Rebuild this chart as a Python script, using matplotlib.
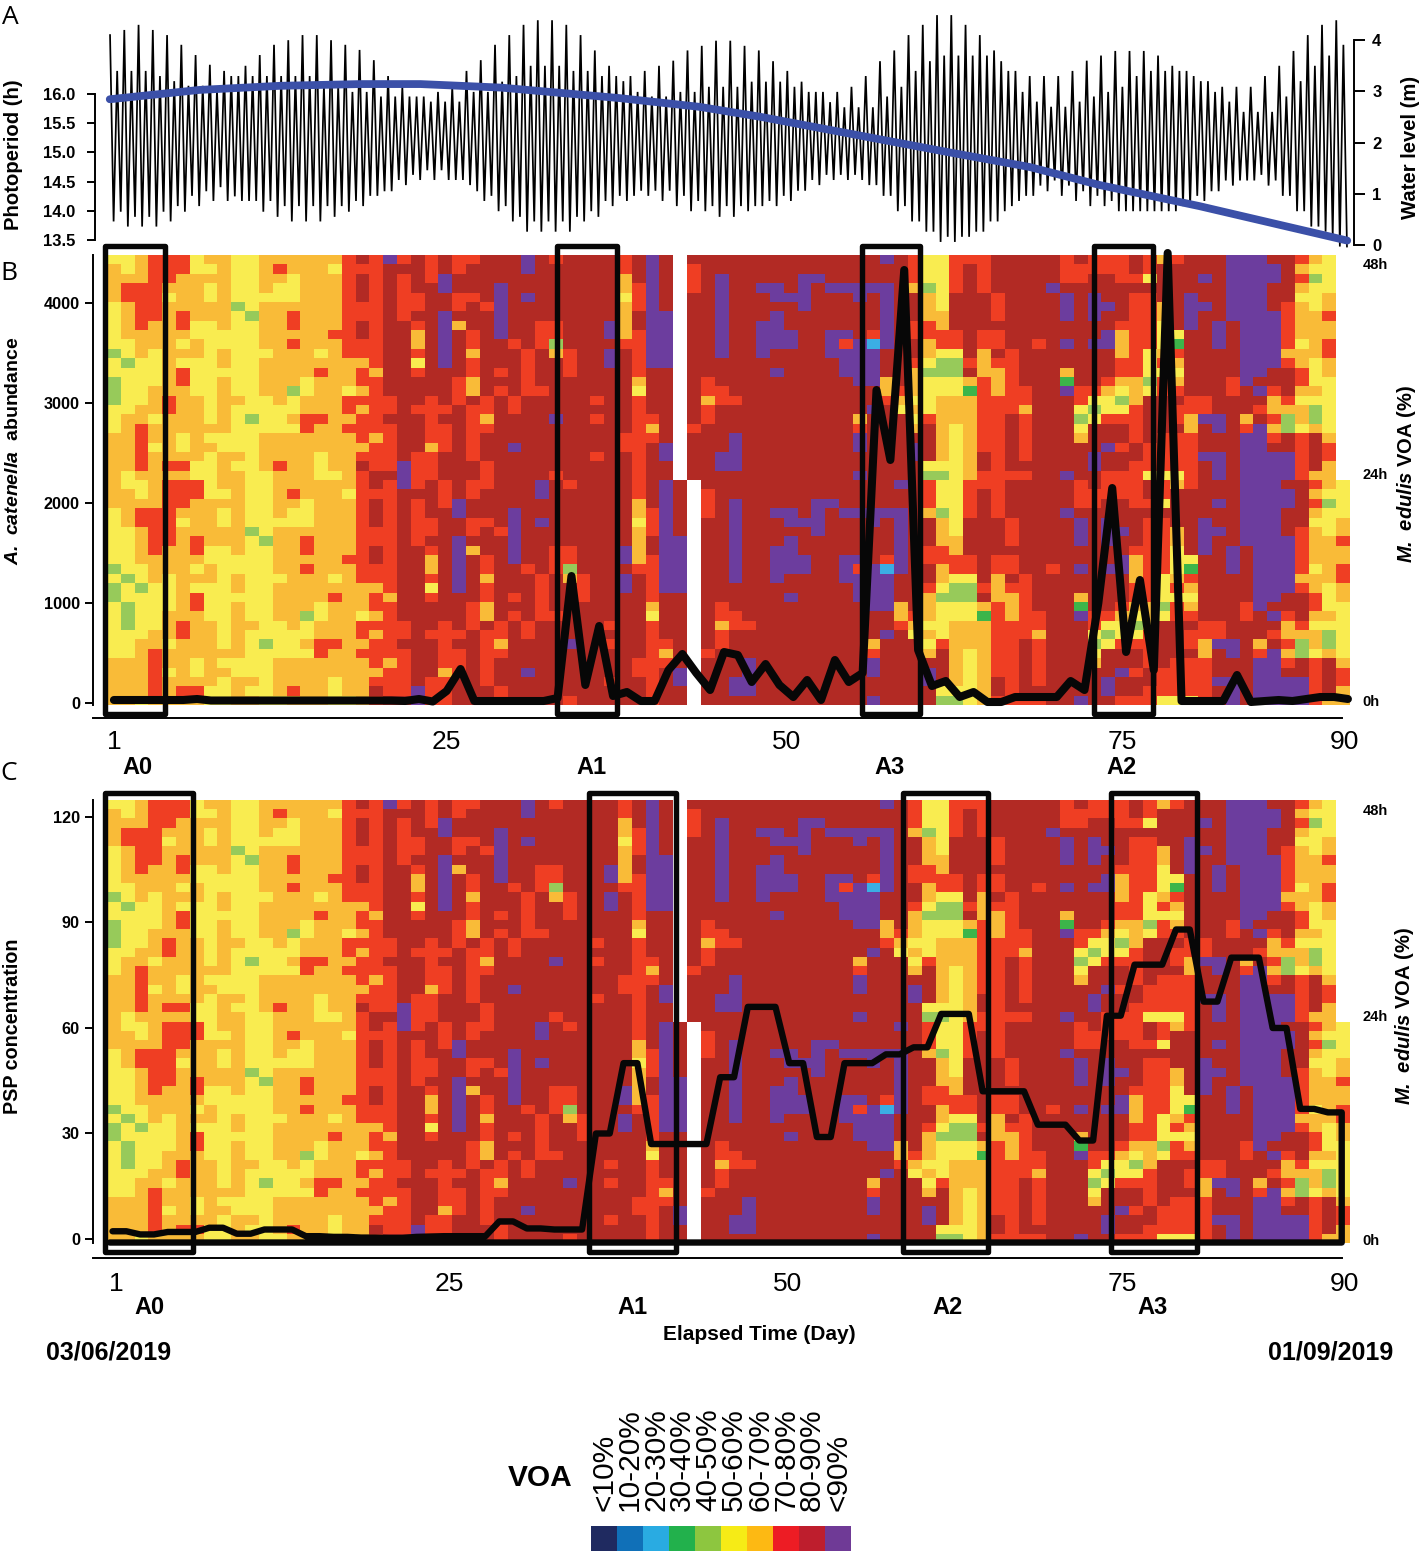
import numpy as np
import matplotlib
matplotlib.use("Agg")
import matplotlib.pyplot as plt
from matplotlib.colors import ListedColormap
from matplotlib.patches import Rectangle

plt.rcParams['font.family'] = ['Liberation Sans', 'DejaVu Sans']
plt.rcParams['mathtext.fontset'] = 'custom'
plt.rcParams['mathtext.bfit'] = 'Liberation Sans:italic:bold'
plt.rcParams['mathtext.rm'] = 'Liberation Sans:bold'

W, H = 1421, 1551

# water level (m), successive high and low waters
tide_highs = [4.10,3.40,4.20,3.40,4.30,3.40,4.20,3.30,4.10,3.20,3.91,3.11,3.71,3.11,3.52,3.03,3.40,3.30,3.30,3.50,
              3.30,3.71,3.30,3.91,3.30,4.00,3.30,4.10,3.30,4.10,3.11,4.00,3.11,3.91,2.99,3.81,2.99,3.61,2.90,3.30,
              2.90,3.09,2.90,2.90,2.90,2.80,2.99,2.80,3.09,2.80,3.40,2.99,3.61,2.99,3.91,
              3.19,4.10,3.30,4.30,3.50,4.39,3.50,4.39,3.50,4.30,3.40,4.10,3.40,3.80,3.30,3.50,3.30,3.20,3.30,2.99,
              3.40,2.90,3.50,2.90,3.60,2.99,3.80,2.99,3.89,3.09,3.99,3.09,3.99,3.09,3.89,3.19,3.80,
              3.19,3.59,3.19,3.40,3.09,3.19,2.99,2.99,2.99,2.79,2.99,2.69,3.09,2.69,3.30,2.69,3.59,2.90,3.80,3.09,
              4.10,3.40,4.30,3.59,4.49,3.70,4.49,3.70,4.30,3.70,4.10,3.70,3.80,3.59,3.40,3.40,2.99,3.30,
              2.80,3.30,2.70,3.30,2.70,3.40,2.80,3.60,2.90,3.70,2.99,3.79,3.09,3.79,3.30,3.79,3.40,3.70,3.40,3.50,
              3.40,3.40,3.30,3.20,3.20,2.99,3.09,2.80,3.09,2.60,3.09,2.60,3.30,2.60,3.50,2.90,3.79,3.20,4.10,3.50,
              4.30,3.70,4.39,3.91,4.39]
tide_lows = [.46,.65,.36,.55,.36,.55,.36,.65,.46,.76,.65,.96,.76,1.05,.86,1.13,.86,.95,.86,.86,
             .86,.65,.86,.55,.76,.46,.76,.46,.76,.46,.76,.55,.76,.65,.86,.76,.96,.96,1.05,1.05,
             1.27,1.17,1.37,1.27,1.46,1.27,1.46,1.27,1.27,1.27,1.17,1.05,.86,.96,.66,
             .76,.46,.55,.26,.46,.26,.46,.26,.46,.26,.55,.46,.66,.55,.86,.76,.96,.86,.96,1.06,
             .96,1.06,.86,1.06,.76,.96,.66,.86,.66,.76,.55,.76,.55,.76,.66,.76,
             .76,.86,.76,.96,.86,1.06,1.06,1.27,1.17,1.37,1.27,1.37,1.27,1.37,1.27,1.17,1.17,.96,.96,
             .66,.76,.46,.46,.26,.26,.06,.16,.06,.16,.16,.26,.26,.46,.46,.66,.76,.86,.96,
             .96,1.16,1.05,1.26,.96,1.16,.86,1.05,.76,.96,.76,.86,.66,.66,.66,.66,.66,.66,.66,.66,.66,
             .76,.76,.96,.86,1.05,1.05,1.26,1.16,1.26,1.26,1.26,1.37,1.16,1.26,.96,.96,.66,.66,.36,.36,
             .26,.16,-.03,-.03]

# photoperiod (h) by day
photo_days = [0.7, 7.2, 13.0, 18.8, 23.2, 29.0, 37.6, 43.4, 47.8, 54.3, 61.5, 67.3, 72.4, 79.6, 90.3]
photo_hours = [15.91, 16.07, 16.14, 16.17, 16.17, 16.11, 15.93, 15.78, 15.61, 15.32, 15.00, 14.75, 14.44, 14.08, 13.49]

# A. catenella abundance, day 1 to 90
catenella = [30,30,30,30,30,30,40,25,25,25,25,25,25,25,25,25,25,25,25,25,25,20,40,15,120,340,20,20,20,20,
             20,20,50,1270,180,770,70,110,20,20,330,490,300,130,510,480,210,390,180,60,
             230,30,430,210,300,3130,2430,4330,530,170,220,60,110,10,10,60,60,60,60,220,
             130,1000,2150,510,1230,330,4500,20,20,20,20,280,10,20,30,20,40,60,60,40]

# PSP concentration, day 1 to 90
psp = [2.2,2.2,1.3,1.3,2,2,2,3.2,3.2,1.5,1.5,2.7,2.7,2.7,.8,.8,.6,.6,.4,.4,.3,.3,.6,.7,.8,.8,.8,.8,5,5,
       3,3,2.7,2.7,2.7,30,30,50,50,27,27,27,27,27,46,46,66,66,66,50,50,29,29,50,50,50,52.5,52.5,54.5,54.5,
       64,64,64,42,42,42,42,32.5,32.5,32.5,28,28,63.5,63.5,78,78,78,88,88,67.5,67.5,80,80,80,60,60,37,37,36,36]

# VOA class per half hour (rows) and day (columns): days 1-30 by row
voa_rows_early = [
    "OYYORRRYOOYYOOOOOORDRPRDRDRRDD",
    "OOYORRRYYOYYOROOOYRRRDDDRDRDDD",
    "OOOORROOOOYYOOYOOORDRDRDRPDDDD",
    "YORRROOOYOYYOYYOOORDRDRDDPDDDP",
    "YORRRYOOYOYYYYYOOORDRDRRDDRRDP",
    "YYORROOOOOGYOOOOOORRRDRRDDRDRP",
    "YYORROROOOYGOOROOORRRDRDDPDDDP",
    "YYOROORYYOYYOOROOORDRDDRDPODDP",
    "YYOOOOOYYYYYOOOOORRDRDDODPDRDP",
    "GYYOOOYOYYYYOOROOORRRDDODPDRDD",
    "YGYOYOOOYOYYYOOOYORRRDDRDPDODD",
    "GYGYYOYYYOYYOOOOOOOORDDYDPDRDD",
    "GYYYYORYYYYYOOOOROORODDRDDDRDR",
    "YGYYYORYYOYYOOOYOOORRDDDDDRODD",
    "YGYYOOOYYOYYOOGYOOYORDDDDDRODR",
    "YGYYOROOYOOYYOYOOORRRRDDRDRDRD",
    "YYYOOROOYOYYYYYOOORORRDRRRDRRD",
    "YYOOYOOOYOYGYYORROORRDDDRDDROD",
    "YYOROOOOOOYYYYYROORRRRDDRRDRRD",
    "OOOROOYOYYYYOOOOOOORORDDRRDRDD",
    "OOORYOYOOYYYOOOOOOOORRDDORDRDD",
    "OOOROOOOYOOYOOOOYOORRRDRRDDRDD",
    "OOORORRYYOYYOROOYOODRRPRRDDDRD",
    "OOYOOOOYYOOYYOOOYYORDDPRRDDDRD",
]

# days 31-90 by column
voa_cols_late = [
    "DDDDDDDDDRDDDDDRRDDDPDDD", "PPDDPDDDDDRRRRRDDDDDDDDD", "DDDDDDDRRRDDDDRDDDDDDDDD",
    "RDDDDDDRRGODDDDDDPDDDDDR", "DDDDDDDDDDRRRDDDDDDDDDDD", "DDDDDDDDDDDDDDDDDDDDDDDD",
    "DDDDDDDDDDDDDDDRDRDDDRDD", "DDDDDDDPPDPPDDDDDDDDDDDD", "RROOYOOOORDDDDDDDDDRRDDD",
    "DDDRRRDDRRRRROYRRRRRRRRR", "PPPPPPPPPPPPDDDDDRORDDDD", "DDDDDDPPPPPPDDDDDDDDPPDD",
    "........................", "DRRRDDDDDDDDDDDDDDRDDDDD", "DDDDDDDDDDDDDRRORRDDDDDD",
    "DDPPPPPPPPPDDDRRDDDDDPPD", "DDDDDDDDDDDDDDDRDDDPPPPD", "DDDDDDDDDDDDDDDDDDDDDDDD",
    "DDDPDDDPPPPDDDDDDDDDDDDD", "DDDPPDPPPPDDPDDDDDDDDDDD", "DDDDPDDDPPDDDDDDDDDDDDDD",
    "DDPPPPDDDDDDDDDDDDDDDDDD", "DDPDDDDDDDDDDDDDDDDDDDDD", "DDDPDDDDPPPDDDDDDDDDDDDD",
    "DDDPDDDDPRPPPDDDDDDDDDDD", "DDDPPDDDDPPPPPDDDORPPDDP", "DDDPDDDDRBPPPPDDPDDDDDDD",
    "PDDPPPPPPPDDDOORDDDDDDDD", "DDDDDDDDDDDDDDROYDDDDDDD", "RRRODDDRRDDROOOYOYODPPDD",
    "YYYGOOORROOYGYYYYRDDDDYG", "YYYYYYOORRYGGYYOOOOOOOYG", "RRRRDDDDRRYGGYYOOOYYYYYY",
    "RDDDDDDDDDDRDOEOOOOOOOOO", "RRRRDDDDRROOORRRRRRRRDDR", "DDDDRRRDRRDROOORRRRRRRRR",
    "DDDDDDDDDDRRRRRRRDDDDDDR", "DDDDDDDDDDDDDDRRORRRRRDR", "DDDDDDDDDRDDDDDDDDDDDDDD",
    "DDDPDDDDDDDDDDDDDDDDDDDD", "RRRDPPPDDPDDOEPDDDDDDDDP", "DRRDDDDDDDDDDDRRYGYODDDD",
    "RRDDPPPDDPDDDDRYGYDDDPPD", "RRDDDPDDPPDDDROYYRDDPDDR", "RRRDDDDROOORROYGYRDDRDDR",
    "DDRDRRRRRRRRROOORRRRDDRR", "RRYDRRRRRRYYYGYDDDDDRRRY", "ODDDDOOYYYORYRRDDDDRRRRY",
    "RDDDDDDDYEROYORDRRDRRRRY", "DDDDPPPPDDDDDDDRROORRRRR", "DDPDDPDDDDDDDDDRRPDDDPDD",
    "DDDDDDDPPPDDDDDDDPPDDPPP", "PPPPPPPDDDDDDRRDDDDDDDDD", "PPPPPPPPPPPPPPDDDORPPPPP",
    "PPPPPPPPPPPPPDPDRDPPPPPP", "DPPDDDPPPPPPDDROORORDPPP", "DDDDDRRRRRORDDDROGGDDPPP",
    "ROROYOOOOYOORROYOOYRRRRR", "OYGYYYOOOOOYYYOYGGODDDDO", "YYYYOOROORROOYYYYYYORROO",
]

voa_codes = "NbBEGYORDP"
heat_colors = ["#1F2A60", "#1070B8", "#3BAEE4", "#3CB54A", "#97CA5A", "#F9EC50", "#F9BB38", "#EF3E23", "#B22A24", "#6C3D9E"]
voa_labels = ["<10%", "10-20%", "20-30%", "30-40%", "40-50%", "50-60%", "60-70%", "70-80%", "80-90%", "<90%"]
legend_colors = ["#1F2A60", "#1070B8", "#29ABE2", "#22B14C", "#8DC63F", "#F6EB16", "#FDB913", "#ED1C24", "#BE1E2D", "#6F3A96"]

day_labels = [1, 25, 50, 75, 90]
day_pos_b = [1, 25.1, 49.7, 74, 90.1]
day_pos_c = [1.15, 25.3, 49.8, 74, 90.1]

# frames as (first edge, last edge) in days
frames_b = [(0.36, 4.7), (33.1, 37.4), (55.2, 59.4), (72.0, 76.2)]
frames_c = [(0.36, 6.7), (35.4, 41.7), (58.1, 64.3), (73.2, 79.4)]


def code_row(s):
    return [voa_codes.find(c) for c in s]


early = np.array([code_row(r) for r in voa_rows_early], dtype=float)
late = np.array([code_row(c) for c in voa_cols_late], dtype=float).T
voa = np.hstack([early, late])
voa[voa < 0] = np.nan
# the actogram is double plotted: upper half is the next day
double = np.vstack([np.hstack([voa[:, 1:], np.full((24, 1), np.nan)]), voa])
cmap = ListedColormap(heat_colors)
cmap.set_bad("white")

fig = plt.figure(figsize=(W / 100, H / 100), dpi=100)


def px_axes(x0, y0, x1, y1):
    return fig.add_axes([x0 / W, 1 - y1 / H, (x1 - x0) / W, (y1 - y0) / H])


def txt(x, y, s, **kw):
    kw.setdefault("ha", "center")
    kw.setdefault("va", "center")
    fig.text(x / W, 1 - y / H, s, **kw)


def bold_labels(axis, size):
    for lab in axis.get_ticklabels():
        lab.set_fontweight("bold")
        lab.set_fontsize(size)


# panel A
a = px_axes(107, 10, 1350, 245)
a2 = a.twinx()
n = min(len(tide_highs), len(tide_lows))
tide = np.empty(2 * n)
tide[0::2] = tide_highs[:n]
tide[1::2] = tide_lows[:n]
tide_x = np.linspace(0.72, 90.28, 2 * n)
a.set_xlim(0.5, 90.5)
a.set_ylim(0, (245 - 10) / 51.2)
a.plot(tide_x, tide, color="black", lw=1.25, solid_joinstyle="miter", clip_on=False)
a.set_xticks([])
for side in ["top", "left", "bottom"]:
    a.spines[side].set_visible(False)
# set_position resets the ticks, so the spines go first
a.spines["right"].set_position(("outward", 3))
a.spines["right"].set_bounds(0, 4)
a.spines["right"].set_linewidth(1.4)
a.yaxis.tick_right()
a.set_yticks([0, 1, 2, 3, 4])
a.set_yticklabels(["0", "1", "2", "3", "4"])
a.tick_params(axis="y", length=8, width=1.4, pad=5)
bold_labels(a.yaxis, 12)

a2.set_ylim(13.5 - 5 / 58.4, 13.5 + 230 / 58.4)
a2.plot(photo_days, photo_hours, color="#3B50A8", lw=5.6, solid_capstyle="round", clip_on=False)
for side in ["top", "right", "bottom"]:
    a2.spines[side].set_visible(False)
a2.spines["left"].set_position(("outward", 8.5))
a2.spines["left"].set_bounds(13.5, 16)
a2.spines["left"].set_linewidth(1.4)
a2.yaxis.tick_left()
a2.set_yticks([13.5, 14, 14.5, 15, 15.5, 16])
a2.set_yticklabels(["13.5", "14.0", "14.5", "15.0", "15.5", "16.0"])
a2.tick_params(axis="y", length=6, width=1.4, pad=8)
bold_labels(a2.yaxis, 12)


def heat_panel(y0, y1, v_per_px, v0_y, values, lw, frames, fr_top, fr_bot, hour_ticks, day_pos, ticks, line_x, spine_out, x_pad):
    ax = px_axes(107, y0, 1350, y1)
    val = ax.twinx()
    ax.pcolormesh(np.arange(91) + 0.5, np.arange(48, -1, -1), double, cmap=cmap, vmin=-0.5, vmax=9.5,
                  antialiased=False, rasterized=True)
    ax.set_xlim(0.5, 90.5)
    ax.set_ylim(0, 48)
    for side in ["top", "left", "right"]:
        ax.spines[side].set_visible(False)
        val.spines[side].set_visible(side == "left")
    ax.spines["bottom"].set_position(("outward", spine_out))
    ax.spines["bottom"].set_bounds(-0.5, 89.9)
    ax.spines["bottom"].set_linewidth(1.4)
    val.spines["bottom"].set_visible(False)
    val.spines["left"].set_position(("outward", 10))
    val.spines["left"].set_linewidth(1.4)

    ax.yaxis.tick_right()
    ax.set_yticks(hour_ticks)
    ax.set_yticklabels(["0h", "24h", "48h"])
    ax.tick_params(axis="y", length=0, pad=9)
    bold_labels(ax.yaxis, 10.5)
    ax.set_xticks(day_pos)
    ax.set_xticklabels(day_labels)
    ax.tick_params(axis="x", length=0, pad=x_pad, labelsize=19)

    val.set_ylim((v0_y - y1) * v_per_px, (v0_y - y0) * v_per_px)
    val.yaxis.tick_left()
    val.set_yticks(ticks)
    val.set_yticklabels([str(t) for t in ticks])
    val.tick_params(axis="y", length=6, width=1.4, pad=3.5)
    bold_labels(val.yaxis, 11.7)

    val.plot(line_x, values, color="#070707", lw=lw, clip_on=False, solid_joinstyle="round",
             solid_capstyle="round", zorder=3)
    for x0, x1 in frames:
        val.add_patch(Rectangle((x0, fr_bot), x1 - x0, fr_top - fr_bot, fill=False, ec="#070707", lw=3.9,
                                transform=val.get_xaxis_transform(), clip_on=False, zorder=4,
                                joinstyle="round"))
    return val


days = np.arange(1, 91)
heat_panel(255, 705, 10.0, 703, catenella, 5.8, frames_b, 1 + 9 / 450, -9 / 450,
           [0.5, 24.7, 47.1], day_pos_b, [0, 1000, 2000, 3000, 4000], np.linspace(1, 90.35, 90), 9.5, 8.5)

# PSP line is closed along the baseline at the end
psp_x = list(days - 0.1) + [89.9, 0.7]
psp_y = psp + [-1.0, -1.0]
heat_panel(800, 1243, 1 / 3.517, 1239, psp_y, 4.6, frames_c, 1 + 7 / 443, -9 / 443,
           [0.43, 24.6, 47], day_pos_c, [0, 30, 60, 90, 120], psp_x, 10.5, 10.5)

# legend
leg = px_axes(591, 1526, 851, 1551)
leg.pcolormesh(np.arange(11), [0, 1], np.arange(10).reshape(1, 10), cmap=ListedColormap(legend_colors),
               vmin=-0.5, vmax=9.5)
leg.set_yticks([])
leg.xaxis.tick_top()
leg.set_xticks(np.arange(10) + 0.5)
leg.set_xticklabels(voa_labels, rotation=90, fontsize=21.5)
leg.tick_params(axis="x", length=0, pad=10.5)
for s in leg.spines.values():
    s.set_visible(False)

# text
for x, y, s in [(10, 18, "A"), (9, 274, "B"), (9, 773, "C")]:
    txt(x, y, s, fontsize=19, family=["Open Sans", "DejaVu Sans"])
txt(14, 155, "Photoperiod (h)", rotation=90, fontsize=14.6, fontweight="bold")
txt(1410, 147, "Water level (m)", rotation=90, fontsize=14.6, fontweight="bold")
txt(14, 451, r"$\mathbfit{A.\ catenella}$  abundance", rotation=90, fontsize=14, fontweight="bold")
txt(1407, 474, r"$\mathbfit{M.\ edulis}$ VOA (%)", rotation=90, fontsize=14.5, fontweight="bold")
txt(1405, 1016, r"$\mathbfit{M.\ edulis}$ VOA (%)", rotation=90, fontsize=14.5, fontweight="bold")
txt(13, 1026, "PSP concentration", rotation=90, fontsize=14.2, fontweight="bold")
for x, s in [(137, "A0"), (591, "A1"), (890, "A3"), (1122, "A2")]:
    txt(x, 768, s, fontsize=17, fontweight="bold")
for x, s in [(149, "A0"), (632, "A1"), (948, "A2"), (1153, "A3")]:
    txt(x, 1307, s, fontsize=17, fontweight="bold")
txt(759, 1334, "Elapsed Time (Day)", fontsize=15, fontweight="bold")
txt(109, 1352, "03/06/2019", fontsize=18, fontweight="bold")
txt(1331, 1352, "01/09/2019", fontsize=18, fontweight="bold")
txt(540, 1478, "VOA", fontsize=21.5, fontweight="bold")

fig.savefig("out.png", dpi=100)
